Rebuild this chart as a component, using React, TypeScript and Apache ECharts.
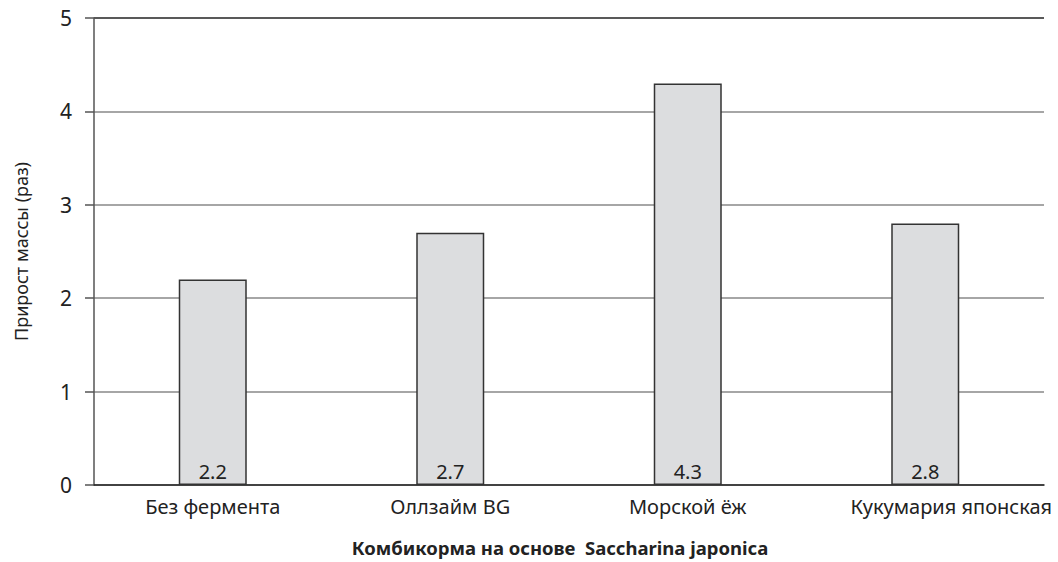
import React, { useEffect, useRef } from "react";
import * as echarts from "echarts";

const categories = ["Без фермента", "Оллзайм BG", "Морской ёж", "Кукумария японская"];
const values = [2.2, 2.7, 4.3, 2.8];
const yTicks = [0, 1, 2, 3, 4, 5];
const yAxisTitle = "Прирост массы (раз)";
const xAxisTitle = "Комбикорма на основе  Saccharina japonica";

const FONT = "'Noto Sans', 'DejaVu Sans', sans-serif";

export default function App() {
  const ref = useRef<HTMLDivElement>(null);
  useEffect(() => {
    if (!ref.current) return;
    const chart = echarts.init(ref.current, undefined, { renderer: "svg" });
    const lastIdx = categories.length - 1;
    chart.setOption({
      animation: false,
      backgroundColor: "#ffffff",
      textStyle: { fontFamily: FONT },
      grid: { left: 94, right: 14, top: 18, bottom: 77, containLabel: false },
      xAxis: {
        type: "category",
        data: categories.map((c, i) =>
          i === lastIdx ? { value: c, textStyle: { padding: [0, 0, 0, 52] } } : c
        ),
        axisLine: { show: true, lineStyle: { color: "#222", width: 1.5 } },
        axisTick: { show: false },
        axisLabel: { interval: 0, hideOverlap: false, fontSize: 20, color: "#222", margin: 11, fontFamily: FONT },
        name: xAxisTitle,
        nameLocation: "middle",
        nameGap: 53,
        nameTextStyle: {
          fontSize: 18.5,
          fontWeight: "bold",
          color: "#222",
          fontFamily: FONT,
          padding: [0, 18, 0, 0],
        },
      },
      yAxis: {
        type: "value",
        min: yTicks[0],
        max: yTicks[yTicks.length - 1],
        interval: 1,
        axisLine: { show: true, lineStyle: { color: "#555", width: 1.5 } },
        axisTick: { show: true, length: 9, lineStyle: { color: "#555", width: 1.5 } },
        axisLabel: { fontSize: 21, color: "#222", margin: 22, fontFamily: FONT },
        splitLine: {
          show: true,
          lineStyle: { color: ["#888", "#888", "#888", "#888", "#888", "#222"], width: 1.5 },
        },
        name: yAxisTitle,
        nameLocation: "middle",
        nameGap: 64,
        nameTextStyle: { fontSize: 18, color: "#222", fontFamily: FONT },
      },
      series: [
        {
          type: "bar",
          data: values,
          barWidth: 68,
          itemStyle: { color: "#dcdddf", borderColor: "#333", borderWidth: 1.5 },
          label: {
            show: true,
            position: "insideBottom",
            distance: 4,
            fontSize: 20,
            color: "#222",
            fontFamily: FONT,
            formatter: (p: any) => p.value.toFixed(1),
          },
        },
      ],
    });
    return () => chart.dispose();
  }, []);
  return <div ref={ref} style={{ width: 1058, height: 562, position: "absolute", left: 0, top: 0 }} />;
}
